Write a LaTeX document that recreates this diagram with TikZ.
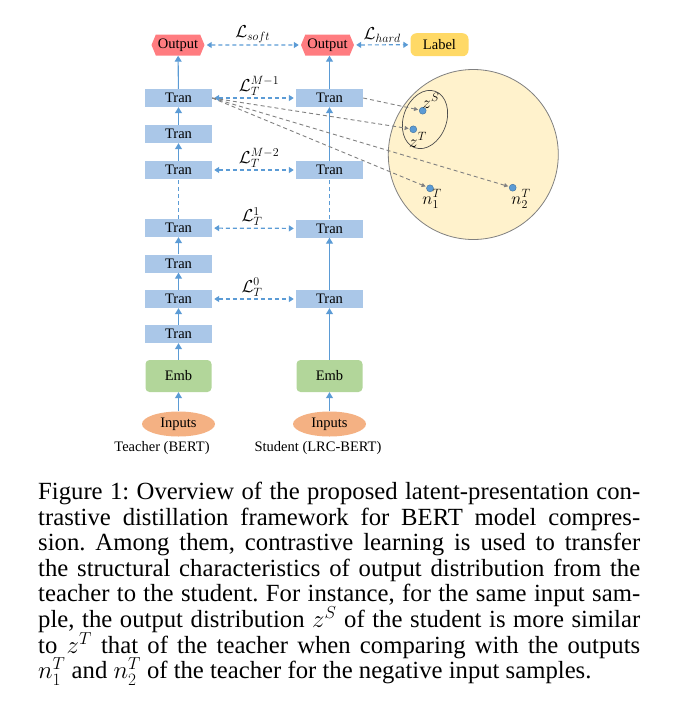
\documentclass[tikz,border=0pt]{standalone}
\usepackage{fontspec}
\setmainfont{Liberation Serif}
\usetikzlibrary{arrows.meta,shapes.geometric,shapes.symbols}
\definecolor{tranfill}{RGB}{170,199,232}
\definecolor{bline}{RGB}{91,155,213}
\definecolor{outfill}{RGB}{255,124,128}
\definecolor{labfill}{RGB}{255,217,102}
\definecolor{embfill}{RGB}{178,214,154}
\definecolor{infill}{RGB}{244,177,131}
\definecolor{circfill}{RGB}{255,242,204}
\definecolor{gline}{RGB}{128,128,128}
\definecolor{dotdraw}{RGB}{65,113,156}
\frenchspacing
\begin{document}
\begin{tikzpicture}[x=1pt,y=-1pt,
  every node/.style={font=\fontsize{14.5}{15}\selectfont},
  tranbox/.style={fill=tranfill, minimum width=67pt, minimum height=18pt, inner sep=0pt},
  outbox/.style={signal, signal to=east and west, signal pointer angle=135, fill=outfill, minimum width=53pt, minimum height=21pt, inner sep=1pt},
  labbox/.style={fill=labfill, rounded corners=6pt, minimum width=58pt, minimum height=23pt, inner sep=0pt},
  embbox/.style={fill=embfill, rounded corners=4pt, minimum width=66pt, minimum height=32pt, inner sep=0pt},
  inbox/.style={ellipse, fill=infill, minimum width=73pt, minimum height=25pt, inner sep=0pt},
  uparrow/.style={draw=bline, line width=1.1pt, -{Triangle[width=7pt,length=6pt]}},
  dotline/.style={draw=bline, line width=1.1pt, dash pattern=on 4pt off 3pt},
  lossarrow/.style={draw=bline, line width=1.2pt, dash pattern=on 4pt off 3pt, {Triangle[width=6pt,length=5pt]}-{Triangle[width=6pt,length=5pt]}, shorten <=2pt, shorten >=2pt},
  grayarrow/.style={draw=gline, line width=0.9pt, dash pattern=on 4pt off 3pt, -{Triangle[width=4pt,length=4pt]}, shorten >=1pt},
  latdot/.style={circle, fill=bline, draw=dotdraw, line width=0.4pt, minimum size=7pt, inner sep=0pt},
  losslab/.style={font=\fontsize{17}{17}\selectfont, inner sep=1pt},
  ptlab/.style={font=\fontsize{17}{17}\selectfont, inner sep=0pt},
  capline/.style={anchor=base west, inner sep=0pt, font=\fontsize{24.7}{25}\selectfont}
]
\useasboundingbox (0,0) rectangle (683,721);

% big circle and latent points
\node[circle, fill=circfill, draw=gline, line width=0.8pt, minimum size=170pt, inner sep=0pt] (space) at (473.3,154.5) {};
\node[ellipse, draw=black!70, line width=0.7pt, minimum width=60pt, minimum height=43pt, rotate=70, inner sep=0pt] (pair) at (425,119.5) {};
\node[latdot] (zS) at (422.7,110.7) {};
\node[latdot] (zT) at (413.3,129.3) {};
\node[latdot] (nA) at (430,188.3) {};
\node[latdot] (nB) at (512.7,187.7) {};
\node[ptlab] (zSl) at (431,101) {$z^S$};
\node[ptlab] (zTl) at (418,140) {$z^T$};
\node[ptlab] (nAl) at (432,199) {$n_1^T$};
\node[ptlab] (nBl) at (521,199) {$n_2^T$};

% teacher column
\node[outbox] (tout) at (178,45) {Output};
\node[tranbox] (tm1) at (178.5,98) {Tran};
\node[tranbox] (tm1b) at (178.5,134) {Tran};
\node[tranbox] (tm2) at (178.5,170) {Tran};
\node[tranbox] (tl1) at (178.5,228) {Tran};
\node[tranbox] (tl1b) at (178.5,263.5) {Tran};
\node[tranbox] (tl0) at (178.5,299) {Tran};
\node[tranbox] (tl0b) at (178.5,334) {Tran};
\node[embbox] (temb) at (178.5,376) {Emb};
\node[inbox] (tin) at (178.5,424) {Inputs};
\node (tcap) at (162,448) {Teacher (BERT)};

% student column
\node[outbox] (sout) at (327.5,45) {Output};
\node[labbox] (lab) at (439.5,44.7) {Label};
\node[tranbox] (sm1) at (329.5,98) {Tran};
\node[tranbox] (sm2) at (329.5,170) {Tran};
\node[tranbox] (sl1) at (329.5,228.5) {Tran};
\node[tranbox] (sl0) at (329.5,299) {Tran};
\node[embbox] (semb) at (329.5,376) {Emb};
\node[inbox] (sin) at (329.5,424) {Inputs};
\node (scap) at (318,448) {Student (LRC-BERT)};

% teacher vertical connectors
\draw[uparrow] (tin) -- (temb);
\draw[uparrow] (temb) -- (tl0b);
\draw[uparrow] (tl0b) -- (tl0);
\draw[uparrow] (tl0) -- (tl1b);
\draw[uparrow] (tl1b) -- (tl1);
\draw[dotline] (tl1) -- (tm2);
\draw[uparrow] (tm2) -- (tm1b);
\draw[uparrow] (tm1b) -- (tm1);
\draw[uparrow] (tm1) -- (tout);

% student vertical connectors
\draw[uparrow] (sin) -- (semb);
\draw[uparrow] (semb) -- (sl0);
\draw[uparrow] (sl0) -- (sl1);
\draw[dotline] (sl1) -- (sm2);
\draw[uparrow] (sm2) -- (sm1);
\draw[uparrow] (sm1.north) -- (sm1.north |- sout.south);

% loss arrows
\draw[lossarrow] (tout) -- (sout) node[midway, above=1pt, losslab] (lsoft) {$\mathcal{L}_{soft}$};
\draw[lossarrow] (sout) -- (lab) node[midway, above=1pt, losslab] (lhard) {$\mathcal{L}_{hard}$};
\draw[lossarrow] (tm1) -- (sm1) node[midway, above=1pt, losslab, xshift=5pt] (lm1) {$\mathcal{L}_T^{M-1}$};
\draw[lossarrow] (tm2) -- (sm2) node[midway, above=1pt, losslab, xshift=5pt] (lm2) {$\mathcal{L}_T^{M-2}$};
\draw[lossarrow] (tl1) -- (sl1) node[midway, above=1pt, losslab, xshift=-2pt] (l1) {$\mathcal{L}_T^{1}$};
\draw[lossarrow] (tl0) -- (sl0) node[midway, above=1pt, losslab, xshift=-2pt] (l0) {$\mathcal{L}_T^{0}$};

% gray projections
\draw[grayarrow] (sm1.east) -- (zS);
\draw[grayarrow] (tm1.east) -- (zT);
\draw[grayarrow] (tm1.east) -- (nA);
\draw[grayarrow] (tm1.east) -- (nB);

% caption
\node[capline] (c1) at (38,499.3) {\makebox[602pt][s]{Figure 1: Overview of the proposed latent-presentation con-}};
\node[capline] (c2) at (38,525) {\makebox[602pt][s]{trastive distillation framework for BERT model compres-}};
\node[capline] (c3) at (38,550.6) {\makebox[602pt][s]{sion. Among them, contrastive learning is used to transfer}};
\node[capline] (c4) at (38,576.3) {\makebox[602pt][s]{the structural characteristics of output distribution from the}};
\node[capline] (c5) at (38,601.9) {\makebox[602pt][s]{teacher to the student. For instance, for the same input sam-}};
\node[capline] (c6) at (38,627.6) {\makebox[602pt][s]{ple, the output distribution $z^S$ of the student is more similar}};
\node[capline] (c7) at (38,653.2) {\makebox[602pt][s]{to $z^T$ that of the teacher when comparing with the outputs}};
\node[capline] (c8) at (38,678.9) {$n_1^T$ and $n_2^T$ of the teacher for the negative input samples.};
\end{tikzpicture}
\end{document}
